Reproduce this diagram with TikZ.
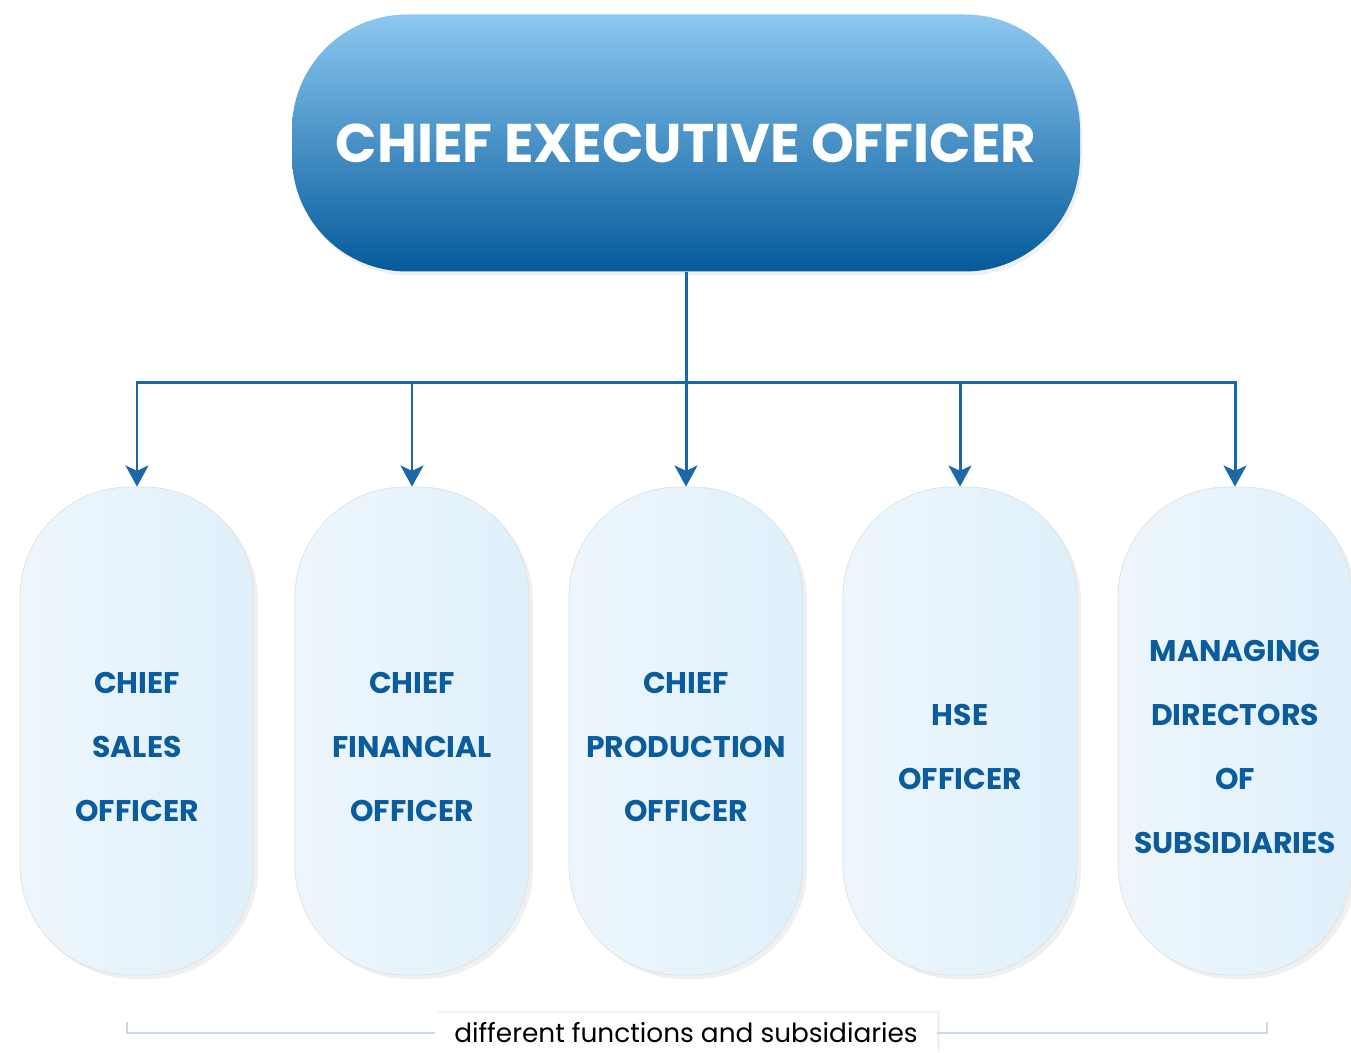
\documentclass[tikz,border=0pt]{standalone}
\usepackage{fontspec}
\setmainfont{Poppins}
\usepackage{tikz}
\usetikzlibrary{arrows.meta,positioning,shadows}
\definecolor{ceotop}{HTML}{8CC8F0}
\definecolor{ceobot}{HTML}{045A9B}
\definecolor{linkblue}{HTML}{1C67A7}
\definecolor{roletext}{HTML}{0A5C9C}
\definecolor{roleleft}{HTML}{EEF6FC}
\definecolor{roleright}{HTML}{DFF0FB}
\definecolor{bracketgray}{HTML}{C9D9E8}
\tikzset{ceo node/.style={rectangle, rounded corners=2.3cm, minimum width=15.76cm,
    minimum height=5.14cm, top color=ceotop, bottom color=ceobot, text=white,
    font=\bfseries\fontsize{31}{38}\selectfont,
    drop shadow={opacity=0.12, shadow xshift=0.5mm, shadow yshift=-0.8mm}}}
\tikzset{role text/.style={text=roletext, align=center, yshift=-0.32cm,
    font=\bfseries\fontsize{17}{36.5}\selectfont}}
\tikzset{role node/.style={rectangle, rounded corners=2.2cm, minimum width=4.68cm,
    minimum height=9.76cm, left color=roleleft, right color=roleright,
    draw=black!12, thin, label={[role text]center:#1},
    drop shadow={opacity=0.12, shadow xshift=0.8mm, shadow yshift=-0.8mm}}}
\tikzset{link edge/.style={draw=linkblue, line width=1.7pt}}
\tikzset{link arrow/.style={link edge, -{Stealth[width=13pt,length=12pt,inset=3pt]}}}
\tikzset{bracket edge/.style={draw=bracketgray, line width=1pt}}
\tikzset{scope label/.style={rectangle, fill=white, minimum width=10.04cm,
    minimum height=0.8cm, inner sep=0pt, font=\fontsize{15}{18}\selectfont,
    drop shadow={opacity=0.1, shadow xshift=0.5mm, shadow yshift=0.5mm}}}

\begin{document}
\begin{tikzpicture}
  \useasboundingbox (0,0) rectangle (27.02,21.04);
  \clip (0,0) rectangle (27.02,21.04);

  \node [ceo node]  (ceo)   at (13.72,18.18) {CHIEF EXECUTIVE OFFICER};

  \node [role node={CHIEF\\SALES\\OFFICER}]                  (sales) at ( 2.74, 6.42) {};
  \node [role node={CHIEF\\FINANCIAL\\OFFICER}]              (fin)   at ( 8.24, 6.42) {};
  \node [role node={CHIEF\\PRODUCTION\\OFFICER}]             (prod)  at (13.72, 6.42) {};
  \node [role node={HSE\\OFFICER}]                           (hse)   at (19.20, 6.42) {};
  \node [role node={MANAGING\\DIRECTORS\\OF\\SUBSIDIARIES}]  (mds)   at (24.70, 6.42) {};

  % bar between the levels
  \coordinate       (bar)   at (13.72,13.38);
  \draw [link edge]  (ceo.south) -- (bar);
  \foreach \role in {sales,fin,prod,hse,mds}
    \draw [link arrow] (bar) -| (\role.north);

  % bracket under the roles
  \node [scope label] (scope) at (13.72,0.38) {different functions and subsidiaries};
  \coordinate       (bl)    at ( 2.54,0.60);
  \coordinate       (br)    at (25.34,0.60);
  \draw [bracket edge] (bl) |- (scope.west);
  \draw [bracket edge] (br) |- (scope.east);
\end{tikzpicture}
\end{document}
